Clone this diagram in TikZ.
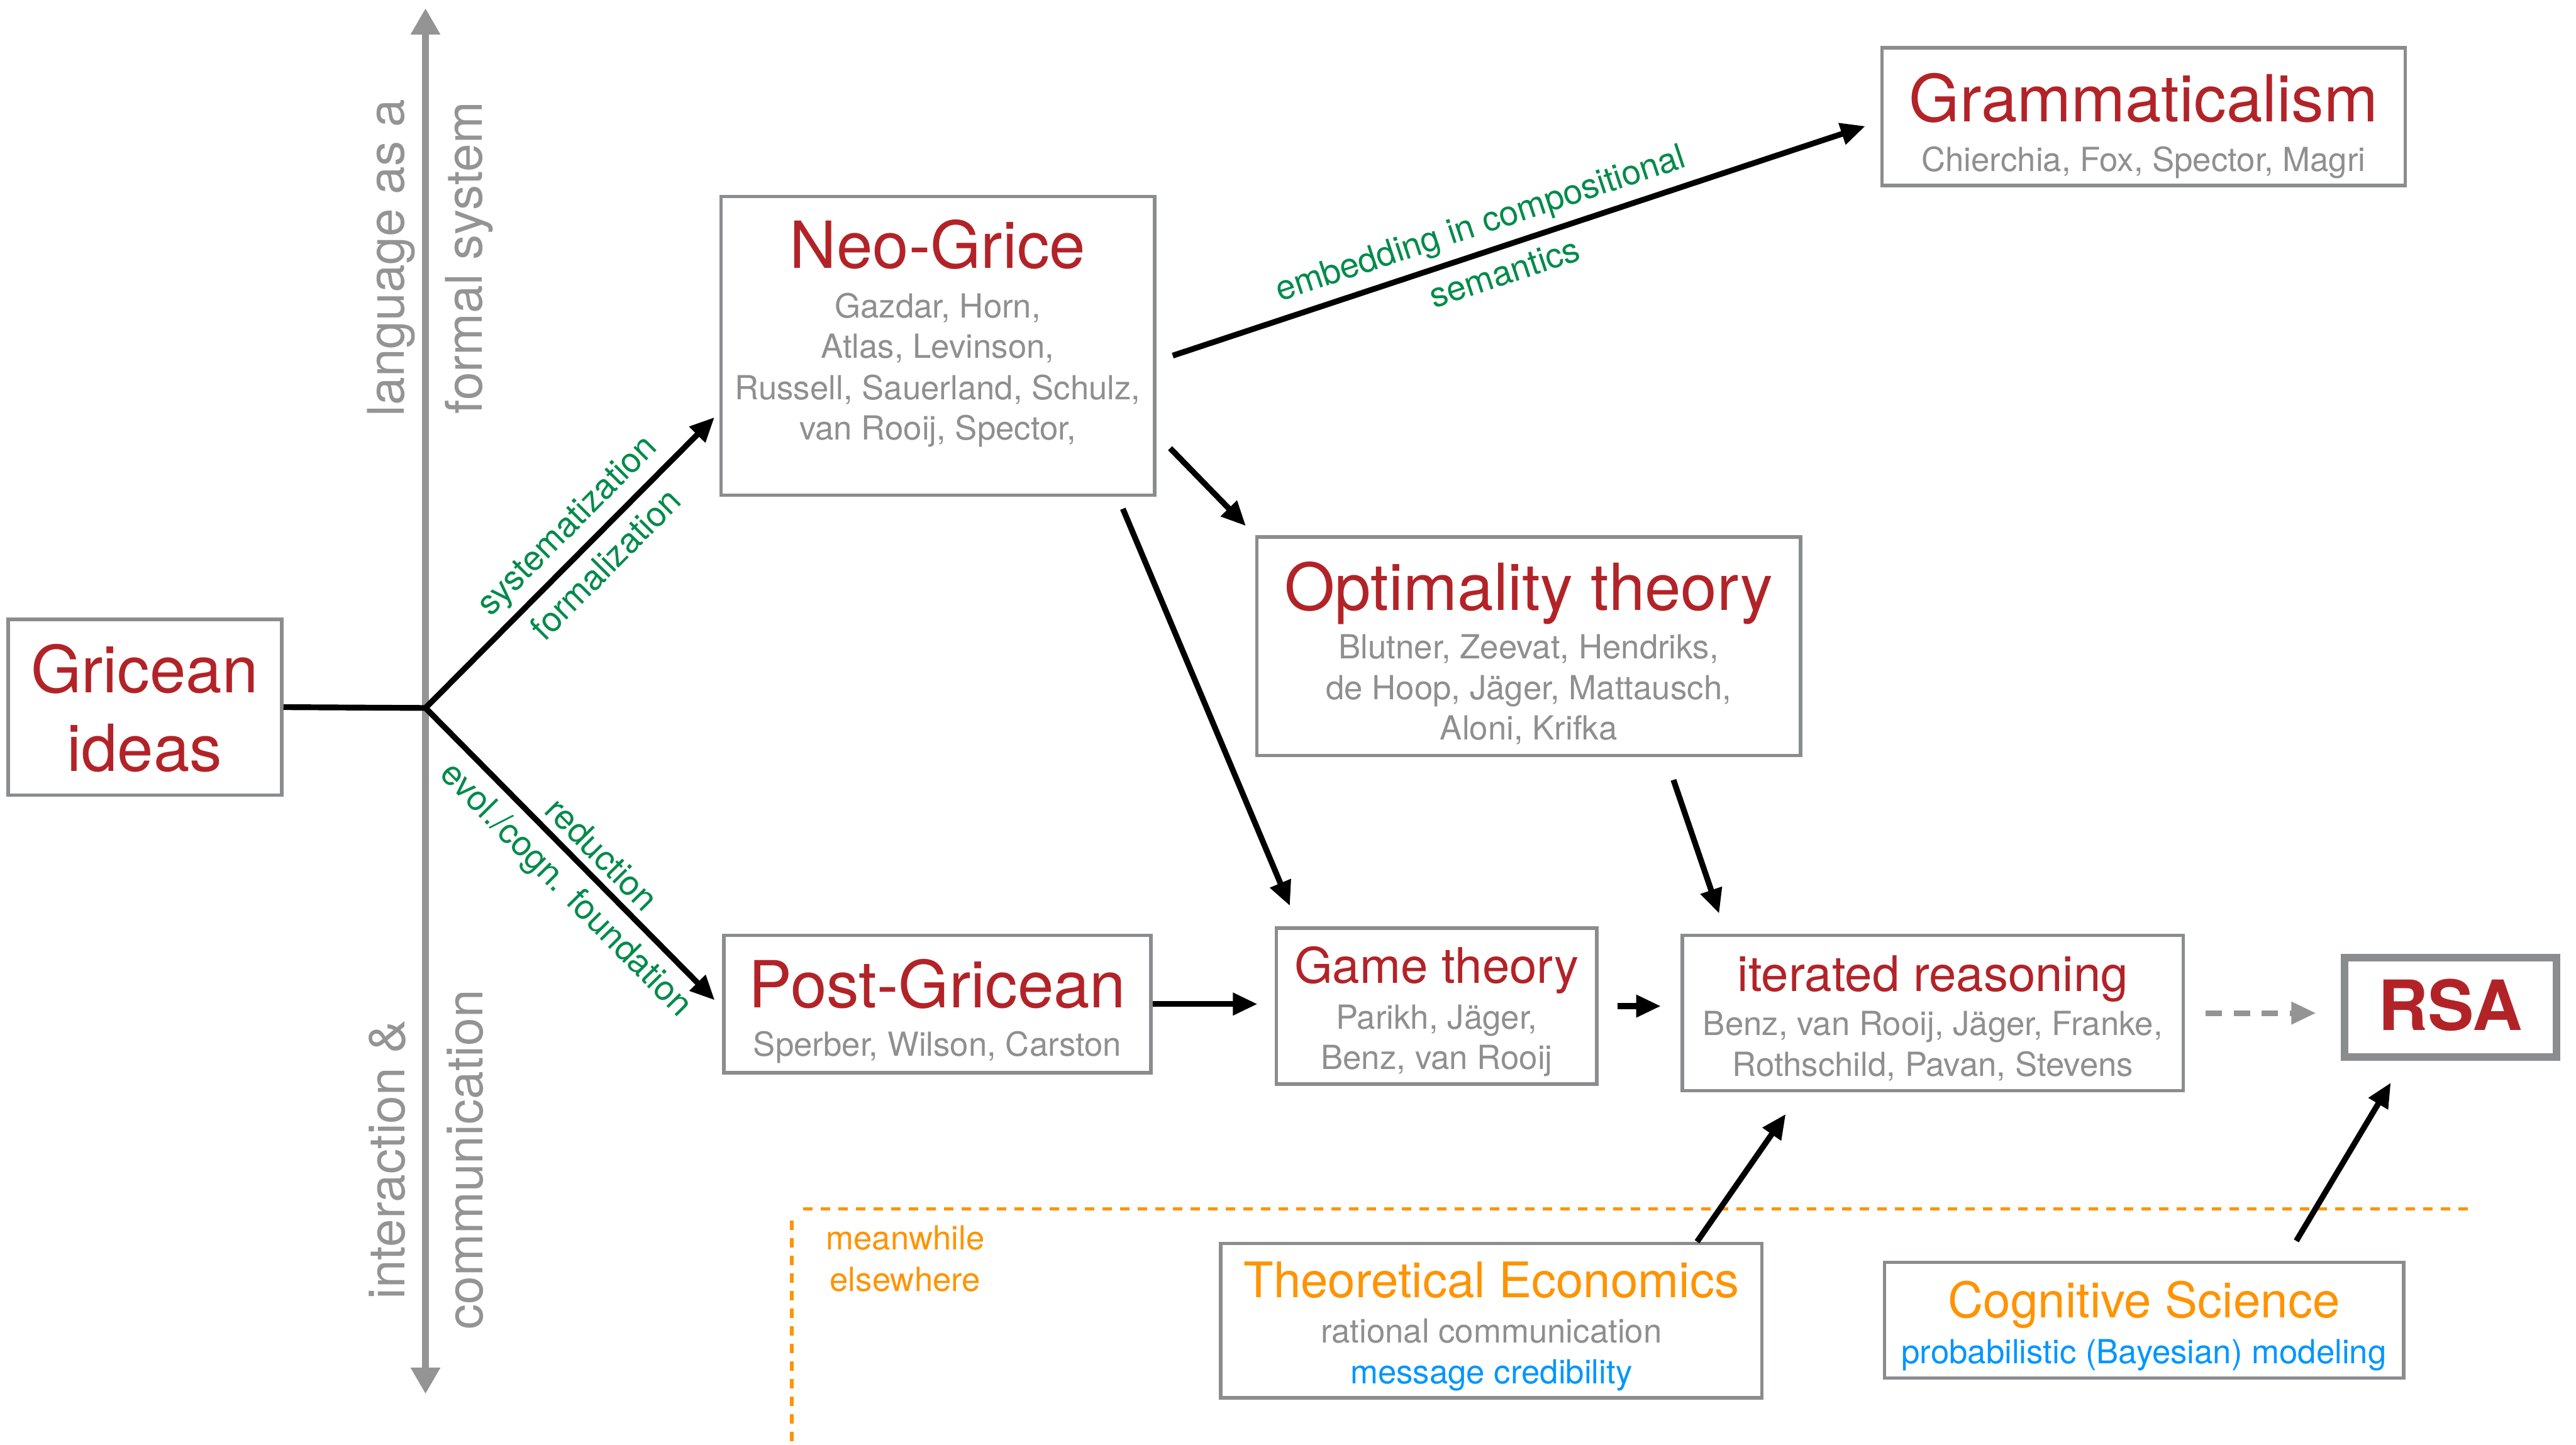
\documentclass[tikz,border=0pt]{standalone}
\usepackage{fontspec}
\setmainfont{TeX Gyre Heros}
\usetikzlibrary{arrows.meta,fit}
\definecolor{tred}{HTML}{B22328}
\definecolor{tgray}{HTML}{8F8F8F}
\definecolor{bgray}{HTML}{8A8C8E}
\definecolor{lgreen}{HTML}{008B4A}
\definecolor{torange}{HTML}{FF9300}
\definecolor{tblue}{HTML}{0096FF}
\definecolor{axgray}{HTML}{949494}
\begin{document}
\begin{tikzpicture}[x=0.02cm,y=-0.02cm,
  box/.style={draw=bgray, line width=1.2pt, inner sep=0pt, rectangle},
  ttl/.style={text=tred, font=\fontsize{22.5}{27}\selectfont, inner sep=0pt, anchor=base},
  sttl/.style={text=tred, font=\fontsize{17}{20}\selectfont, inner sep=0pt, anchor=base},
  ottl/.style={text=torange, font=\fontsize{17}{20}\selectfont, inner sep=0pt, anchor=base},
  names/.style={text=tgray, font=\fontsize{11.5}{14}\selectfont, inner sep=0pt, anchor=base},
  bnames/.style={names, text=tblue},
  onames/.style={names, text=torange},
  conn/.style={draw=black, line width=2pt, -{Triangle[length=0.3cm,width=0.26cm]}},
  dconn/.style={draw=axgray, line width=2pt, dash pattern=on 5.7pt off 4pt, -{Triangle[length=0.3cm,width=0.26cm]}},
  lab/.style={text=lgreen, font=\fontsize{12}{14}\selectfont, sloped, inner sep=2.5pt},
  labb/.style={lab, inner sep=3.5pt},
  axlab/.style={text=axgray, font=\fontsize{17.5}{27}\selectfont, align=center, inner sep=0pt, rotate=90},
  axis/.style={draw=axgray, line width=2.3pt, {Triangle[length=0.32cm,width=0.34cm]}-{Triangle[length=0.32cm,width=0.34cm]}},
  odash/.style={draw=torange, line width=1.2pt, dash pattern=on 3.2pt off 2.9pt}
]
\path[use as bounding box, fill=white] (0,0) rectangle (1568,879.6);

% axis
\coordinate (axbot) at (259,848.6);
\coordinate (axtop) at (259,5);
\draw[axis] (axbot) -- (axtop);
\node[axlab] (axU) at (262,157) {language as a\\formal system};
\node[axlab] (axL) at (259.5,706) {interaction \&\\communication};

% boxes
\node[box, fit={(5,377) (171.5,484)}] (grice) {};
\node[box, fit={(438.8,119.6) (702.8,301.4)}] (neo) {};
\node[box, fit={(1145.5,29) (1464,113)}] (gram) {};
\node[box, fit={(765,327) (1096,460)}] (opt) {};
\node[box, fit={(440.7,569.5) (700.5,653)}] (post) {};
\node[box, fit={(777,565) (972,660)}] (game) {};
\node[box, fit={(1024,569.5) (1329,664)}] (iter) {};
\node[draw=bgray, line width=2.6pt, inner sep=0pt, fit={(1427,583) (1556,643.5)}] (rsa) {};
\node[box, fit={(743,757) (1072.5,851)}] (te) {};
\node[box, fit={(1147,768.5) (1463,839)}] (cs) {};

% texts
\node[ttl] (griceA) at (88,421.5) {Gricean};
\node[ttl] (griceB) at (88,469.6) {ideas};

\node[ttl] (neoT) at (570.8,163.1) {Neo-Grice};
\node[names] (neo1) at (570.8,193.7) {Gazdar, Horn,};
\node[names] (neo2) at (570.8,218.2) {Atlas, Levinson,};
\node[names] (neo3) at (570.8,243.1) {Russell, Sauerland, Schulz,};
\node[names] (neo4) at (570.8,267.8) {van Rooij, Spector,};

\node[ttl] (gramT) at (1304.75,74) {Grammaticalism};
\node[names] (gram1) at (1304.75,104.2) {Chierchia, Fox, Spector, Magri};

\node[ttl] (optT) at (930.5,371.4) {Optimality theory};
\node[names] (opt1) at (930.5,401) {Blutner, Zeevat, Hendriks,};
\node[names] (opt2) at (930.5,426) {de Hoop, Jäger, Mattausch,};
\node[names] (opt3) at (930.5,450.4) {Aloni, Krifka};

\node[ttl] (postT) at (570.6,613.6) {Post-Gricean};
\node[names] (post1) at (570.6,643) {Sperber, Wilson, Carston};

\node[sttl] (gameT) at (874.5,598.7) {Game theory};
\node[names] (game1) at (874.5,626.6) {Parikh, Jäger,};
\node[names] (game2) at (874.5,650.9) {Benz, van Rooij};

\node[sttl] (iterT) at (1176.5,603.4) {iterated reasoning};
\node[names] (iter1) at (1176.5,630.2) {Benz, van Rooij, Jäger, Franke,};
\node[names] (iter2) at (1176.5,655.1) {Rothschild, Pavan, Stevens};

\node[text=tred, font=\fontsize{24}{28}\selectfont\bfseries, inner sep=0pt, anchor=base] (rsaT) at (1491.5,627.3) {RSA};

\node[ottl] (teT) at (907.75,790) {Theoretical Economics};
\node[names] (te1) at (907.75,817.5) {rational communication};
\node[bnames] (te2) at (907.75,842.5) {message credibility};

\node[ottl] (csT) at (1305,802.2) {Cognitive Science};
\node[bnames] (cs1) at (1305,830) {probabilistic (Bayesian) modeling};

\node[onames] (mw1) at (551,761) {meanwhile};
\node[onames] (mw2) at (551,786) {elsewhere};

% meanwhile elsewhere frame
\draw[odash] (489,736) -- (1505,736);
\draw[odash] (482,743) -- (482,880);

% connectors
\coordinate (j) at (259,431);
\draw[line width=2pt] (grice.east) -- (j);
\draw[conn, shorten >=0.08cm] (j) -- (neo.197.2)
  node[lab, pos=0.55, above] {systematization}
  node[labb, pos=0.55, below] {formalization};
\draw[conn, shorten >=0.13cm] (j) -- (post.181)
  node[lab, pos=0.54, above] {reduction}
  node[labb, pos=0.54, below] {evol./cogn. foundation};
\draw[conn, shorten <=0.21cm, shorten >=0.19cm] (neo.356.6) -- (gram.181.6)
  node[lab, pos=0.46, above] {embedding in compositional}
  node[labb, pos=0.47, below] {semantics};
\draw[conn, shorten <=0.24cm, shorten >=0.16cm] (neo.338.7) -- (opt.north west);
\draw[conn, shorten <=0.158cm, shorten >=0.27cm] (neo.320.7) -- (game.150.8);
\draw[conn, shorten <=0.29cm, shorten >=0.26cm] (opt.321.8) -- (iter.159.7);
\draw[conn, shorten >=0.21cm] (post.east) -- (post.east -| game.west);
\draw[conn, shorten <=0.23cm, shorten >=0.24cm] (game.east) -- (game.east -| iter.west);
\draw[dconn, shorten <=0.25cm, shorten >=0.3cm] (iter.east) -- (iter.east -| rsa.west);
\draw[conn, shorten >=0.32cm] (te.21.6) -- (iter.211.8);
\draw[conn, shorten <=0.28cm, shorten >=0.31cm] (cs.23.1) -- (rsa.229);
\end{tikzpicture}
\end{document}
